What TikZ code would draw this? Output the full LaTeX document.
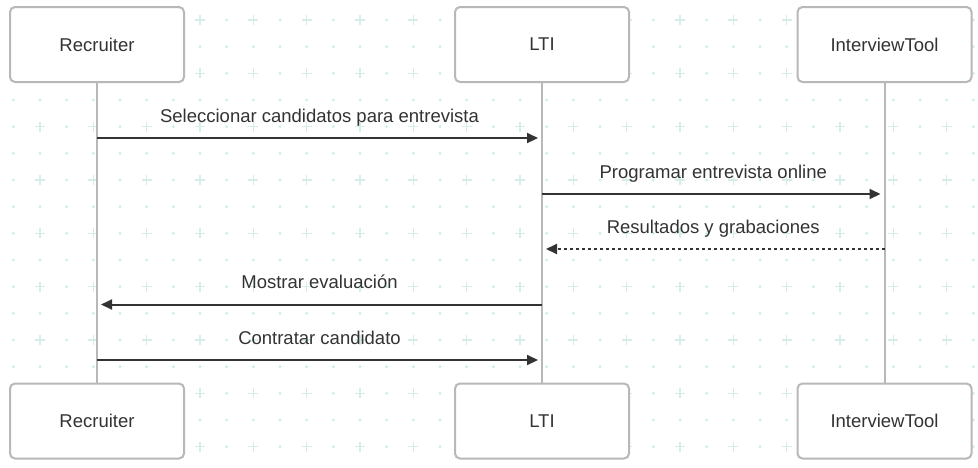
\documentclass[tikz,border=0pt]{standalone}
\usepackage{fontspec}
\setmainfont{Liberation Sans}
\usetikzlibrary{arrows.meta, positioning}
\definecolor{seqgray}{RGB}{184,184,184}
\definecolor{seqdark}{RGB}{51,51,51}
\definecolor{gridplus}{RGB}{214,238,234}
\definecolor{griddot}{RGB}{206,232,240}

\begin{document}
\begin{tikzpicture}[
    x=1pt, y=-1pt,
    >={Triangle[length=11pt, width=10pt]},
    actor/.style={rectangle, rounded corners=5pt, draw=seqgray, line width=2pt, fill=white,
        minimum width=174pt, minimum height=75pt, text=seqdark, font=\fontsize{18.5}{22}\selectfont},
    lifeline/.style={draw=seqgray, line width=2pt},
    msg/.style={->, seqdark, line width=2pt, shorten >=4pt},
    reply/.style={msg, dash pattern=on 3pt off 3pt},
    msglabel/.style={above=7.5pt, text depth=4pt, text=seqdark, font=\fontsize{18.5}{22}\selectfont},
    plusmark/.style={draw=gridplus, line width=1.1pt}
]
\useasboundingbox[fill=white] (0,0) rectangle (978,467);

% === Fondo punteado ===
\foreach \j in {1,3,...,15}
    \foreach \i in {0,...,36}
        \fill[griddot] (13.333+26.667*\i, 20+26.667*\j) circle (1.5pt);
\foreach \j in {0,2,...,16}
    \foreach \i in {0,2,...,36}
        \fill[griddot] (13.333+26.667*\i, 20+26.667*\j) circle (1.5pt);
\foreach \j in {0,2,...,16}
    \foreach \i in {1,3,...,35}
        \draw[plusmark] (13.333+26.667*\i, 20+26.667*\j) +(-5,0) -- +(5,0) +(0,-5) -- +(0,5);

% === Participantes ===
\node[actor] (recTop) at (97, 44.5) {Recruiter};
\node[actor] (ltiTop) at (542, 44.5) {LTI};
\node[actor] (toolTop) at (884.5, 44.5) {InterviewTool};

\node[actor] (recBot) at (97, 421) {Recruiter};
\node[actor] (ltiBot) at (542, 421) {LTI};
\node[actor] (toolBot) at (884.5, 421) {InterviewTool};

% Lineas de vida
\draw[lifeline] (recTop) -- (recBot);
\draw[lifeline] (ltiTop) -- (ltiBot);
\draw[lifeline] (toolTop) -- (toolBot);

% === Mensajes ===
\coordinate (m1) at (0, 138);
\coordinate (m2) at (0, 194);
\coordinate (m3) at (0, 249);
\coordinate (m4) at (0, 304.5);
\coordinate (m5) at (0, 360);

\draw[msg] (recTop |- m1) -- node[msglabel] {Seleccionar candidatos para entrevista} (ltiTop |- m1);
\draw[msg] (ltiTop |- m2) -- node[msglabel] {Programar entrevista online} (toolTop |- m2);
\draw[reply] (toolTop |- m3) -- node[msglabel] {Resultados y grabaciones} (ltiTop |- m3);
\draw[msg] (ltiTop |- m4) -- node[msglabel] {Mostrar evaluación} (recTop |- m4);
\draw[msg] (recTop |- m5) -- node[msglabel] {Contratar candidato} (ltiTop |- m5);

\end{tikzpicture}
\end{document}
